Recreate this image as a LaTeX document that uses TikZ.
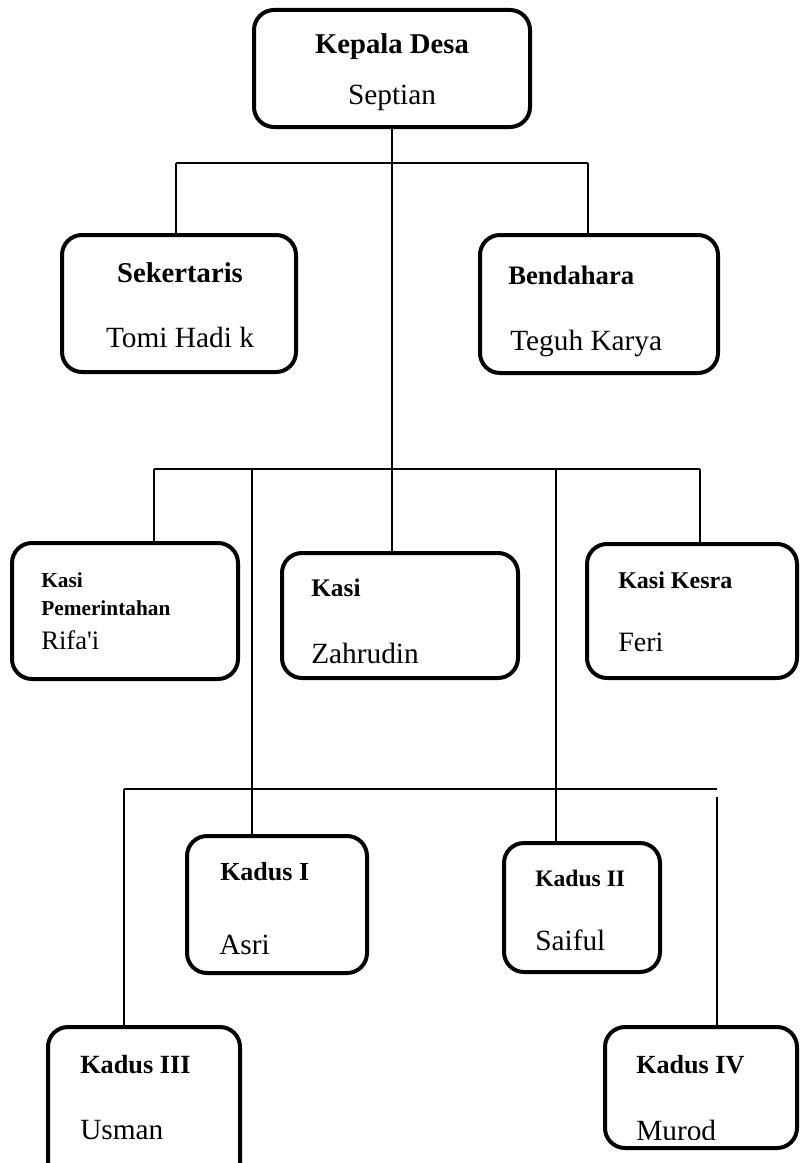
\documentclass[tikz,border=0pt]{standalone}
\usepackage{fontspec}
\setmainfont{Liberation Serif}
\usetikzlibrary{fit}

\begin{document}
\begin{tikzpicture}[x=0.75pt,y=-0.75pt,
  box/.style={draw,line width=3pt,rounded corners=15pt,inner sep=0pt},
  link/.style={line width=1pt},
  jab/.style={font=\bfseries\fontsize{#1}{#1}\selectfont,inner sep=0pt},
  jab/.default=20,
  nama/.style={font=\fontsize{#1}{#1}\selectfont,inner sep=0pt},
  nama/.default=22]
\useasboundingbox (0,0) rectangle (800,1163);
\clip (0,0) rectangle (800,1163);

% kotak
\node[box, fit={(254,10) (530,127)}] (kepala) {};
\node[box, fit={(62,235) (296,372)}] (sekretaris) {};
\node[box, fit={(480,235) (718,373)}] (bendahara) {};
\node[box, fit={(12,543) (238,679)}] (pemerintahan) {};
\node[box, fit={(282,553) (518,678)}] (zahrudin) {};
\node[box, fit={(587,544) (797,678)}] (kesra) {};
\node[box, fit={(187,836) (367,973)}] (kadus1) {};
\node[box, fit={(504,843) (660,972)}] (kadus2) {};
\node[box, fit={(48,1027) (240,1185)}] (kadus3) {};
\node[box, fit={(605,1027) (797,1148)}] (kadus4) {};

% garis
\coordinate (a1) at (176,163);
\coordinate (a2) at (588,163);
\draw[link] (a1) -- (a2);
\draw[link] (a1) -- (a1 |- sekretaris.north);
\draw[link] (a2) -- (a2 |- bendahara.north);
\draw[link] (kepala.south) -- (kepala.south |- zahrudin.north);

\coordinate (b1) at (154,469);
\coordinate (b2) at (700,469);
\draw[link] (b1) -- (b2);
\draw[link] (b1) -- (b1 |- pemerintahan.north);
\draw[link] (b2) -- (b2 |- kesra.north);

\coordinate (k1) at (252,469);
\coordinate (k2) at (556,469);
\draw[link] (k1) -- (k1 |- kadus1.north);
\draw[link] (k2) -- (k2 |- kadus2.north);

\coordinate (c1) at (124,789);
\coordinate (c2) at (717,789);
\coordinate (c3) at (717,797);
\draw[link] (c1) -- (c2);
\draw[link] (c1) -- (c1 |- kadus3.north);
\draw[link] (c3) -- (c3 |- kadus4.north);

% teks
\node[jab=21.5] (kepalaJ) at (392,47) {Kepala Desa};
\node[nama] (kepalaN) at (392,98) {Septian};

\node[jab=21.5] (sekretarisJ) at (180,273) {Sekertaris};
\node[nama] (sekretarisN) at (180,337) {Tomi Hadi k};

\node[jab, anchor=west] (bendaharaJ) at (508,275) {Bendahara};
\node[nama, anchor=west] (bendaharaN) at (510,343) {Teguh Karya};

\node[jab=16, anchor=west] (pemerintahanJ1) at (41,580) {Kasi};
\node[jab=16, anchor=west] (pemerintahanJ2) at (41,608) {Pemerintahan};
\node[nama=20, anchor=west] (pemerintahanN) at (41,640) {Rifa\textquotesingle i};

\node[jab=19, anchor=west] (zahrudinJ) at (311,588) {Kasi};
\node[nama, anchor=west] (zahrudinN) at (311,653) {Zahrudin};

\node[jab=18, anchor=west] (kesraJ) at (618,580) {Kasi Kesra};
\node[nama=21, anchor=west] (kesraN) at (618,642) {Feri};

\node[jab=19.5, anchor=west] (kadus1J) at (220,872) {Kadus I};
\node[nama, anchor=west] (kadus1N) at (219,945) {Asri};

\node[jab=17.7, anchor=west] (kadus2J) at (535,878) {Kadus II};
\node[nama, anchor=west] (kadus2N) at (535,940) {Saiful};

\node[jab=19.7, anchor=west] (kadus3J) at (80,1065) {Kadus III};
\node[nama, anchor=west] (kadus3N) at (80,1130) {Usman};

\node[jab=19.6, anchor=west] (kadus4J) at (636,1065) {Kadus IV};
\begin{scope}
\clip (620,1100) rectangle (790,1139);
\node[nama, anchor=west] (kadus4N) at (636,1130) {Murod};
\end{scope}
\end{tikzpicture}
\end{document}
